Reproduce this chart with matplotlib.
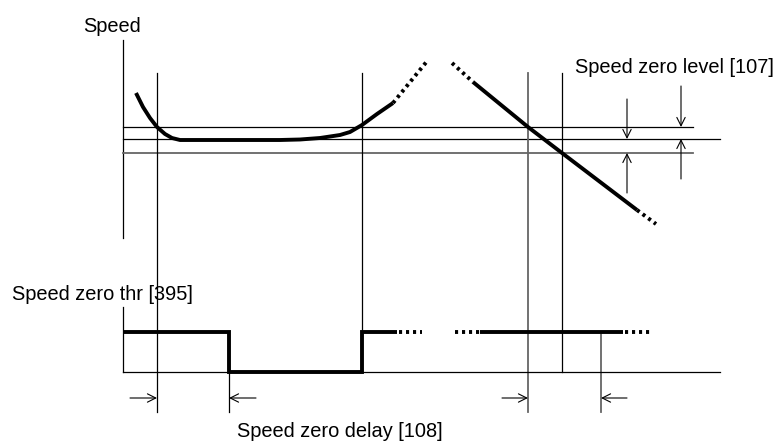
import matplotlib
matplotlib.use("Agg")
import matplotlib.pyplot as plt

# ---- diagram data (pixel coordinates) ----
speed_x = [136, 143, 150, 157, 165, 172, 180, 230, 280, 300, 320, 340, 350, 362, 377, 393]
speed_y = [93, 107, 118, 127, 134, 138, 140, 140, 140, 139.5, 138, 135, 132, 125, 114, 103]
speed_dot_x = [393, 428]
speed_dot_y = [103, 60]
ramp_dot1_x = [452, 473]
ramp_dot1_y = [63, 82]
ramp_x = [473, 528, 562, 637]
ramp_y = [82, 127, 153, 210]
ramp_dot2_x = [637, 656]
ramp_dot2_y = [210, 224]

level_hi, level_mid, level_lo = 127, 139, 153
out_hi, out_lo = 332, 372
step_x = [123, 229, 229, 362, 362, 397]
step_y = [out_hi, out_hi, out_lo, out_lo, out_hi, out_hi]
step_dot1_x = [399, 422]
step_dot2_x = [455, 480]
step2_x = [480, 623]
step_dot3_x = [625, 650]

labels = {
    "Speed": (83, 32),
    "Speed zero level [107]": (575, 73),
    "Speed zero thr [395]": (12, 300),
    "Speed zero delay [108]": (237, 437),
}

FAMILY = ["Liberation Sans", "DejaVu Sans"]

fig = plt.figure(figsize=(7.8, 4.43), dpi=100)
ax = fig.add_axes([0, 0, 1, 1])
ax.set_xlim(0, 780)
ax.set_ylim(443, 0)
ax.axis("off")

K = "black"
G = "#666666"
thin = 0.9
thick = 2.8
dots = (0, (0.8, 1.0))

# axes of the speed plot
ax.plot([123, 123], [40, 238], color=K, lw=thin)
ax.plot([123, 693], [level_hi, level_hi], color=K, lw=thin)
ax.plot([123, 720], [level_mid, level_mid], color=K, lw=thin)
ax.plot([123, 693], [level_lo, level_lo], color=G, lw=1.3)

# vertical time markers
ax.plot([157, 157], [73, 412], color=K, lw=thin)
ax.plot([362, 362], [73, 332], color=K, lw=thin)
ax.plot([528, 528], [73, 412], color=G, lw=1.3)
ax.plot([562, 562], [73, out_lo], color=K, lw=thin)
ax.plot([229, 229], [out_lo, 412], color=K, lw=thin)
ax.plot([601, 601], [out_hi, 412], color=G, lw=1.3)

# speed curves
ax.plot(speed_x, speed_y, color=K, lw=thick, solid_capstyle="butt")
ax.plot(speed_dot_x, speed_dot_y, color=K, lw=thick, ls=dots)
ax.plot(ramp_dot1_x, ramp_dot1_y, color=K, lw=thick, ls=dots)
ax.plot(ramp_x, ramp_y, color=K, lw=thick, solid_capstyle="butt")
ax.plot(ramp_dot2_x, ramp_dot2_y, color=K, lw=thick, ls=dots)

# output signal
ax.plot([123, 123], [307, out_lo], color=K, lw=thin)
ax.plot([123, 720], [out_lo, out_lo], color=K, lw=thin)
ax.plot(step_x, step_y, color=K, lw=thick, solid_joinstyle="miter", solid_capstyle="butt")
ax.plot(step_dot1_x, [out_hi] * 2, color=K, lw=thick, ls=dots)
ax.plot(step_dot2_x, [out_hi] * 2, color=K, lw=thick, ls=dots)
ax.plot(step2_x, [out_hi] * 2, color=K, lw=thick, solid_capstyle="butt")
ax.plot(step_dot3_x, [out_hi] * 2, color=K, lw=thick, ls=dots)

# dimension arrows
def arrow(x0, y0, x1, y1):
    ax.annotate("", xy=(x1, y1), xytext=(x0, y0),
                arrowprops=dict(arrowstyle="->", color=K, lw=0.8,
                                shrinkA=0, shrinkB=0, mutation_scale=15))

arrow(627, 99, 627, level_mid)
arrow(627, 193, 627, level_lo)
arrow(681, 86, 681, level_hi)
arrow(681, 179, 681, level_mid)
arrow(130, 398, 157, 398)
arrow(256, 398, 229, 398)
arrow(502, 398, 528, 398)
arrow(627, 398, 601, 398)

for txt, (x, y) in labels.items():
    ax.text(x, y, txt, family=FAMILY, fontsize=14.4, va="baseline", ha="left", color=K)

fig.savefig("out.png", dpi=100)
